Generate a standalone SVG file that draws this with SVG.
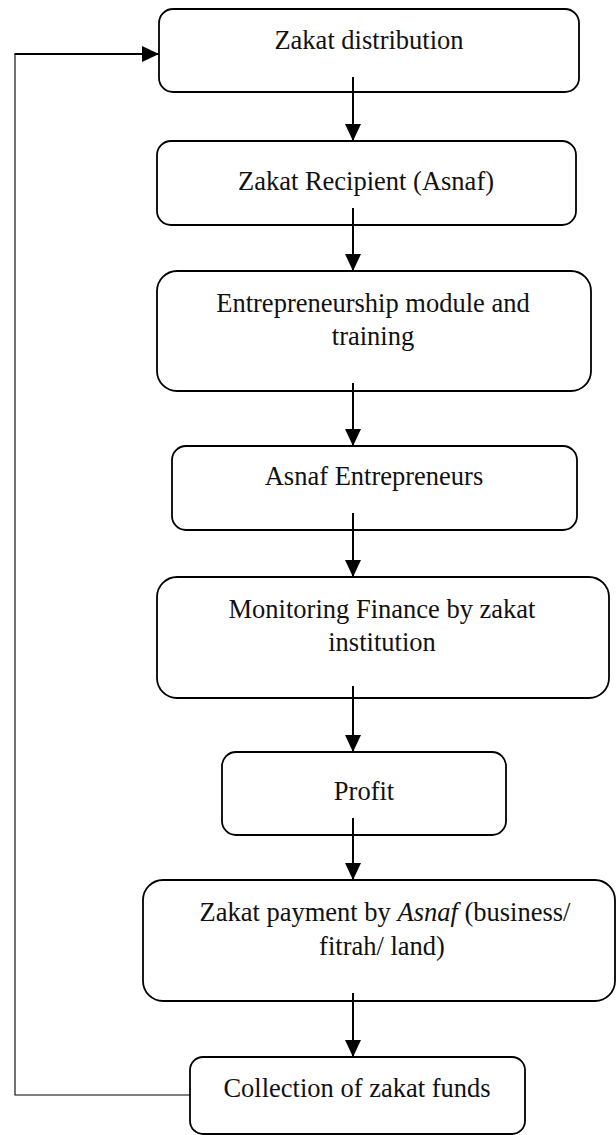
<svg xmlns="http://www.w3.org/2000/svg" width="616" height="1135" viewBox="0 0 616 1135">
<style>
.box{fill:#fff;stroke:#000;stroke-width:1.8}
.t{font-family:"Liberation Serif","Times New Roman",serif;font-size:26.5px;fill:#111;text-anchor:middle}
.c{fill:none;stroke:#000;stroke-width:2}
.thin{fill:none;stroke:#000;stroke-width:1.1}
</style>
<defs>
<marker id="ah" markerUnits="userSpaceOnUse" markerWidth="17" markerHeight="16" viewBox="0 0 17 16" refX="17" refY="8" orient="auto">
<path d="M0,0 L17,8 L0,16 z" fill="#000"/>
</marker>
</defs>
<rect width="616" height="1135" fill="#fff"/>
<g id="n1"><rect class="box" x="159" y="9" width="420" height="83" rx="14"/><text class="t" x="369" y="49">Zakat distribution</text></g>
<g id="n2"><rect class="box" x="157" y="141" width="419" height="84" rx="14"/><text class="t" x="366" y="190">Zakat Recipient (Asnaf)</text></g>
<g id="n3"><rect class="box" x="157" y="271" width="434" height="120" rx="20"/><text class="t" x="373" y="312">Entrepreneurship module and</text><text class="t" x="373" y="345">training</text></g>
<g id="n4"><rect class="box" x="172" y="446" width="405" height="84" rx="14"/><text class="t" x="374" y="485">Asnaf Entrepreneurs</text></g>
<g id="n5"><rect class="box" x="157" y="577" width="452" height="121" rx="20"/><text class="t" x="382" y="618">Monitoring Finance by zakat</text><text class="t" x="382" y="651">institution</text></g>
<g id="n6"><rect class="box" x="222" y="752" width="284" height="83" rx="14"/><text class="t" x="364" y="800">Profit</text></g>
<g id="n7"><rect class="box" x="143" y="880" width="472" height="121" rx="20"/><text class="t" x="385" y="921">Zakat payment by <tspan font-style="italic">Asnaf</tspan> (business/</text><text class="t" x="382" y="955">fitrah/ land)</text></g>
<g id="n8"><rect class="box" x="190" y="1057" width="335" height="77" rx="13"/><text class="t" x="357" y="1097">Collection of zakat funds</text></g>
<g id="connectors">
<line class="c" x1="353" y1="77" x2="353" y2="141" marker-end="url(#ah)"/>
<line class="c" x1="353" y1="208" x2="353" y2="271" marker-end="url(#ah)"/>
<line class="c" x1="353" y1="383" x2="353" y2="446" marker-end="url(#ah)"/>
<line class="c" x1="353" y1="513" x2="353" y2="577" marker-end="url(#ah)"/>
<line class="c" x1="353" y1="686" x2="353" y2="752" marker-end="url(#ah)"/>
<line class="c" x1="353" y1="818" x2="353" y2="880" marker-end="url(#ah)"/>
<line class="c" x1="353" y1="993" x2="353" y2="1057" marker-end="url(#ah)"/>
<polyline class="thin" points="190,1095 15,1095 15,54"/>
<line class="c" x1="14.5" y1="54" x2="159" y2="54" marker-end="url(#ah)"/>
</g>
</svg>
